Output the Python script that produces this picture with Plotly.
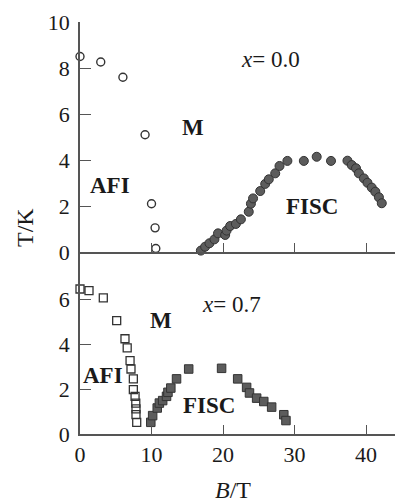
import plotly.graph_objects as go

# x = 0.0 : AFI/M boundary (open circles) and FISC dome (filled circles)
b_afi_0 = [0.0, 2.9, 6.0, 9.1, 10.0, 10.5, 10.6]
t_afi_0 = [8.5, 8.26, 7.6, 5.1, 2.1, 1.05, 0.15]

b_fisc_0 = [16.9, 17.5, 18.1, 18.8, 19.3, 20.3, 20.5, 21.0, 21.8, 22.5, 23.6, 23.9,
            24.2, 25.2, 25.9, 26.4, 27.3, 27.9, 29.0, 31.3, 33.1, 35.1, 37.4, 38.0,
            38.6, 39.0, 39.7, 40.2, 40.8, 41.3, 41.8, 42.2]
t_fisc_0 = [0.06, 0.23, 0.38, 0.55, 0.81, 0.74, 0.93, 1.13, 1.22, 1.42, 1.75, 2.1,
            2.33, 2.65, 2.96, 3.16, 3.42, 3.74, 3.96, 3.96, 4.14, 3.96, 3.97, 3.78,
            3.64, 3.42, 3.2, 3.01, 2.8, 2.62, 2.38, 2.12]

# x = 0.7 : AFI/M boundary (open squares) and FISC dome (filled squares)
b_afi_7 = [0.0, 1.26, 3.26, 5.13, 6.29, 6.6, 7.0, 7.13, 7.46, 7.46, 7.7, 7.8, 7.83, 7.83, 7.93]
t_afi_7 = [6.47, 6.4, 6.07, 5.06, 4.25, 3.84, 3.27, 2.9, 2.46, 1.98, 1.68, 1.38, 1.12, 0.86, 0.52]

b_fisc_7 = [9.9, 10.16, 10.8, 11.1, 11.56, 12.1, 12.3, 12.7, 13.5, 15.2,
            19.8, 22.05, 23.3, 23.7, 24.7, 25.7, 26.8, 28.5, 28.8]
t_fisc_7 = [0.52, 0.82, 1.16, 1.38, 1.49, 1.68, 1.86, 2.05, 2.46, 2.9,
            2.93, 2.46, 2.08, 1.83, 1.6, 1.45, 1.2, 0.86, 0.6]

x_ticks = [0, 10, 20, 30, 40]
y_ticks_top = [0, 2, 4, 6, 8, 10]
y_ticks_bottom = [0, 2, 4, 6]

FONT = "Times New Roman, Liberation Serif, serif"
AXIS = "#555555"
INK = "#1a1a1a"
FILL = "#5c5c5c"
EDGE = "#333333"

fig = go.Figure()

fig.add_trace(go.Scatter(x=b_afi_0, y=t_afi_0, mode="markers", xaxis="x2", yaxis="y2",
                         cliponaxis=False,
                         marker=dict(symbol="circle-open", size=8, color="#333333",
                                     line=dict(width=1.4))))
fig.add_trace(go.Scatter(x=b_fisc_0, y=t_fisc_0, mode="markers", xaxis="x2", yaxis="y2",
                         cliponaxis=False,
                         marker=dict(symbol="circle", size=9, color=FILL,
                                     line=dict(width=1, color=EDGE))))
fig.add_trace(go.Scatter(x=b_afi_7, y=t_afi_7, mode="markers", xaxis="x", yaxis="y",
                         cliponaxis=False,
                         marker=dict(symbol="square-open", size=8, color="#333333",
                                     line=dict(width=1.3))))
fig.add_trace(go.Scatter(x=b_fisc_7, y=t_fisc_7, mode="markers", xaxis="x", yaxis="y",
                         cliponaxis=False,
                         marker=dict(symbol="square", size=8.5, color=FILL,
                                     line=dict(width=1, color=EDGE))))

split = 182 / 412

common_x = dict(range=[0, 44.05], showline=True, linecolor=AXIS, linewidth=1.6,
                ticks="inside", ticklen=9, tickwidth=1.4, tickcolor=AXIS,
                tickvals=x_ticks, showgrid=False, zeroline=False,
                tickfont=dict(family=FONT, size=22, color=INK))
common_y = dict(showline=True, linecolor=AXIS, linewidth=1.6,
                ticks="inside", ticklen=11, tickwidth=1.4, tickcolor=AXIS,
                showgrid=False, zeroline=False, ticklabelstandoff=4,
                tickfont=dict(family=FONT, size=22, color=INK))

fig.update_layout(
    width=395, height=503,
    margin=dict(l=80, r=0, t=22, b=69),
    paper_bgcolor="white", plot_bgcolor="white",
    showlegend=False,
    xaxis=dict(domain=[0, 1], anchor="y", **common_x),
    yaxis=dict(domain=[0, split], anchor="x", range=[0, 8.12], tickvals=y_ticks_bottom, **common_y),
    xaxis2=dict(domain=[0, 1], anchor="y2", matches="x", showticklabels=False,
                **{k: v for k, v in common_x.items() if k != "tickfont"}),
    yaxis2=dict(domain=[split, 1], anchor="x2", range=[0, 10], tickvals=y_ticks_top, **common_y),
)

def label(text, x, y, xref, yref, size=23):
    fig.add_annotation(text=text, x=x, y=y, xref=xref, yref=yref, showarrow=False,
                       font=dict(family=FONT, size=size, color=INK))

# phase labels, upper panel
label("<i>x</i>= 0.0", 26.6, 8.35, "x2", "y2")
label("<b>M</b>", 15.8, 5.4, "x2", "y2")
label("<b>AFI</b>", 4.2, 2.9, "x2", "y2")
label("<b>FISC</b>", 32.5, 1.96, "x2", "y2")

# phase labels, lower panel
label("<i>x</i>= 0.7", 21.2, 5.77, "x", "y")
label("<b>M</b>", 11.3, 5.07, "x", "y")
label("<b>AFI</b>", 3.2, 2.6, "x", "y")
label("<b>FISC</b>", 18.0, 1.26, "x", "y")

# axis titles (paper coordinates are relative to the plotting area)
fig.add_annotation(text="T/K", x=(25 - 80) / 315, y=(434 - 228) / 412,
                   xref="paper", yref="paper",
                   showarrow=False, textangle=-90, yanchor="middle", xanchor="center",
                   font=dict(family=FONT, size=24, color=INK))
fig.add_annotation(text="<i>B</i>/T", x=(233 - 80) / 315, y=-(490 - 434) / 412,
                   xref="paper", yref="paper", showarrow=False,
                   xanchor="center", yanchor="middle",
                   font=dict(family=FONT, size=24, color=INK))

fig.write_html("out.html")
